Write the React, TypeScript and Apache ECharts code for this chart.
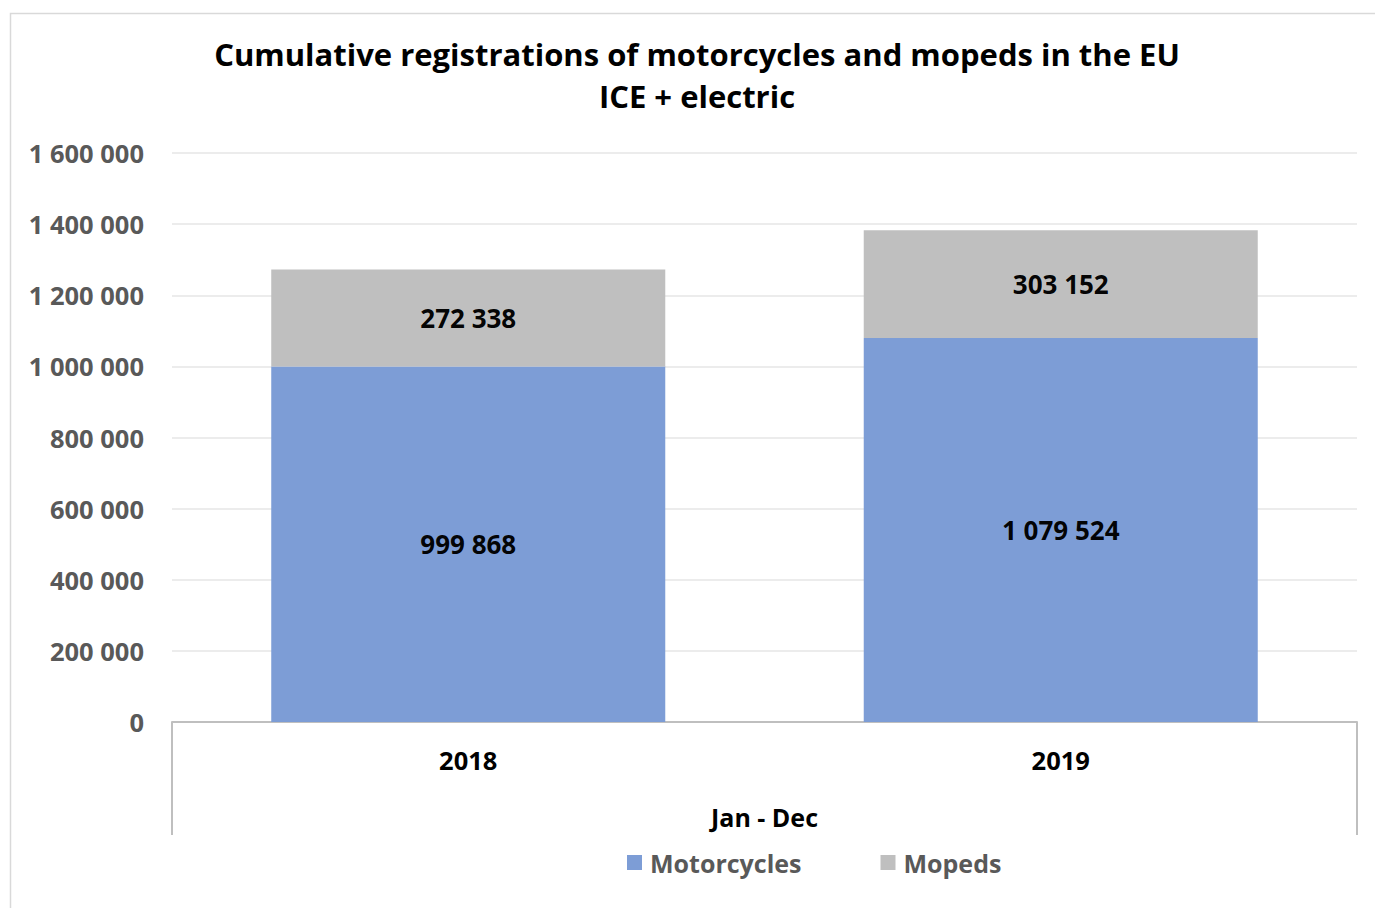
import React, { useEffect, useRef } from "react";
import * as echarts from "echarts";

const categories = ["2018", "2019"];
const motorcycles = [999868, 1079524];
const mopeds = [272338, 303152];
const yTicks = { min: 0, max: 1600000, interval: 200000 };
const titleText = "Cumulative registrations of motorcycles and mopeds in the EU\nICE + electric";
const axisName = "Jan - Dec";

const fmt = (v: number) => String(Math.round(v)).replace(/\B(?=(\d{3})+(?!\d))/g, " ");

export default function App() {
  const ref = useRef<HTMLDivElement>(null);
  useEffect(() => {
    if (!ref.current) return;
    const chart = echarts.init(ref.current, null, { renderer: "svg" });
    const font = "'Open Sans', 'Noto Sans', sans-serif";
    const lbl = {
      show: true,
      position: "inside",
      fontSize: 26,
      fontWeight: "bold",
      color: "#000000",
      fontFamily: font,
      formatter: (p: any) => fmt(p.value),
    };
    chart.setOption({
      animation: false,
      backgroundColor: "#ffffff",
      textStyle: { fontFamily: font },
      title: {
        text: titleText,
        left: 692,
        textAlign: "center",
        top: 28,
        textStyle: { fontSize: 31, fontWeight: "bold", color: "#000000", lineHeight: 42, fontFamily: font },
      },
      grid: { left: 172, right: 18, top: 153, bottom: 186, containLabel: false },
      legend: {
        bottom: 28,
        left: 622,
        itemWidth: 15,
        itemHeight: 15,
        itemGap: 79,
        icon: "rect",
        textStyle: { fontSize: 25, fontWeight: "bold", color: "#595959", fontFamily: font, padding: [0, 0, 0, 3] },
        data: ["Motorcycles", "Mopeds"],
      },
      xAxis: {
        type: "category",
        data: categories,
        name: axisName,
        nameLocation: "middle",
        nameGap: 82,
        nameTextStyle: { fontSize: 25, fontWeight: "bold", color: "#000000", fontFamily: font },
        axisLine: { show: true, lineStyle: { color: "#BFBFBF", width: 2 } },
        axisTick: { show: false },
        axisLabel: { fontSize: 25.5, fontWeight: "bold", color: "#000000", margin: 25, fontFamily: font },
      },
      yAxis: {
        type: "value",
        min: yTicks.min,
        max: yTicks.max,
        interval: yTicks.interval,
        axisLine: { show: false },
        axisTick: { show: false },
        splitLine: { lineStyle: { color: "#E6E6E6", width: 1.5 } },
        axisLabel: {
          fontSize: 25.5,
          fontWeight: "bold",
          color: "#595959",
          margin: 28,
          fontFamily: font,
          formatter: (v: number) => fmt(v),
        },
      },
      series: [
        {
          name: "Motorcycles",
          type: "bar",
          stack: "total",
          data: motorcycles,
          barWidth: "66.5%",
          itemStyle: { color: "#7A9BD5", opacity: 0.98 },
          label: lbl,
        },
        {
          name: "Mopeds",
          type: "bar",
          stack: "total",
          data: mopeds,
          barWidth: "66.5%",
          itemStyle: { color: "#BEBEBE", opacity: 0.98 },
          label: lbl,
        },
      ],
      graphic: [
        {
          type: "rect",
          silent: true,
          shape: { x: 10.5, y: 13.5, width: 1400, height: 1000 },
          style: { fill: "none", stroke: "#D9D9D9", lineWidth: 1.5 },
        },
        {
          type: "line",
          silent: true,
          shape: { x1: 172, y1: 722, x2: 172, y2: 835 },
          style: { stroke: "#BFBFBF", lineWidth: 2 },
        },
        {
          type: "line",
          silent: true,
          shape: { x1: 1357, y1: 722, x2: 1357, y2: 835 },
          style: { stroke: "#BFBFBF", lineWidth: 2 },
        },
      ],
    });
    return () => chart.dispose();
  }, []);
  return (
    <div
      ref={ref}
      style={{ position: "fixed", left: 0, top: 0, width: 1375, height: 908 }}
    />
  );
}
